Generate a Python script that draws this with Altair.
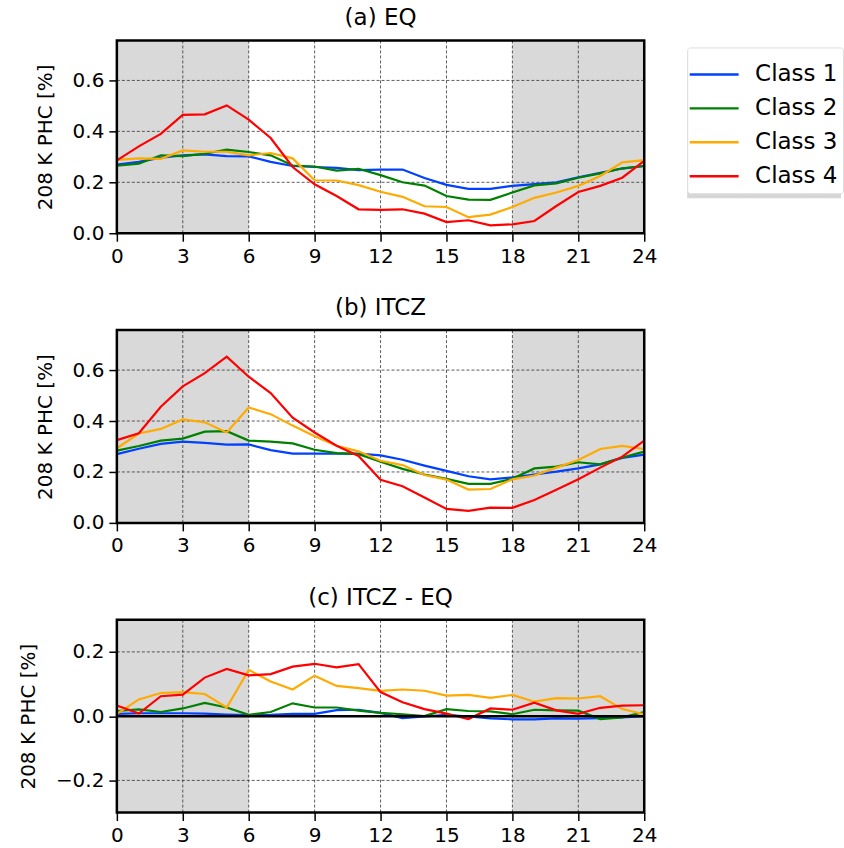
import altair as alt
import pandas as pd

# Diurnal cycle of the 208 K pixel high-cloud fraction per class
hours = list(range(25))
classes = ["Class 1", "Class 2", "Class 3", "Class 4"]
colors = ["#0040ff", "#008000", "#ffaa00", "#ff0000"]

# (a) EQ
eq_c1 = [0.270, 0.280, 0.297, 0.306, 0.310, 0.303, 0.302, 0.280, 0.264, 0.260, 0.257, 0.248, 0.250,
         0.250, 0.217, 0.190, 0.174, 0.174, 0.186, 0.193, 0.200, 0.220, 0.237, 0.254, 0.264]
eq_c2 = [0.265, 0.273, 0.306, 0.303, 0.312, 0.328, 0.319, 0.306, 0.266, 0.262, 0.246, 0.253, 0.228,
         0.200, 0.187, 0.146, 0.132, 0.131, 0.160, 0.188, 0.196, 0.218, 0.235, 0.255, 0.264]
eq_c3 = [0.288, 0.294, 0.292, 0.325, 0.320, 0.320, 0.306, 0.315, 0.294, 0.208, 0.207, 0.189, 0.163,
         0.143, 0.106, 0.103, 0.063, 0.073, 0.103, 0.139, 0.160, 0.186, 0.225, 0.278, 0.287]
eq_c4 = [0.286, 0.341, 0.390, 0.465, 0.467, 0.502, 0.446, 0.374, 0.260, 0.192, 0.146, 0.094, 0.092,
         0.094, 0.077, 0.044, 0.051, 0.031, 0.035, 0.048, 0.107, 0.162, 0.186, 0.218, 0.284]

# (b) ITCZ
itcz_c1 = [0.270, 0.291, 0.310, 0.319, 0.314, 0.307, 0.308, 0.286, 0.272, 0.272, 0.272, 0.272, 0.265,
           0.248, 0.225, 0.204, 0.183, 0.171, 0.179, 0.190, 0.201, 0.214, 0.230, 0.255, 0.268]
itcz_c2 = [0.284, 0.302, 0.323, 0.331, 0.358, 0.360, 0.323, 0.319, 0.312, 0.287, 0.274, 0.270, 0.240,
           0.212, 0.190, 0.173, 0.153, 0.153, 0.173, 0.214, 0.221, 0.238, 0.230, 0.257, 0.280]
itcz_c3 = [0.293, 0.351, 0.369, 0.406, 0.395, 0.355, 0.453, 0.427, 0.382, 0.340, 0.303, 0.281, 0.244,
           0.227, 0.188, 0.170, 0.131, 0.133, 0.171, 0.186, 0.217, 0.247, 0.290, 0.302, 0.290]
itcz_c4 = [0.325, 0.352, 0.456, 0.536, 0.588, 0.653, 0.574, 0.510, 0.413, 0.355, 0.303, 0.263, 0.169,
           0.144, 0.100, 0.055, 0.047, 0.060, 0.059, 0.090, 0.130, 0.171, 0.217, 0.260, 0.323]

# (c) ITCZ - EQ
diff_c1 = [0.007, 0.009, 0.009, 0.009, 0.008, 0.005, 0.003, 0.004, 0.007, 0.007, 0.019, 0.020, 0.010,
           -0.006, -0.001, 0.004, -0.001, -0.007, -0.010, -0.010, -0.007, -0.008, -0.006, -0.004, 0.000]
diff_c2 = [0.016, 0.021, 0.013, 0.024, 0.041, 0.027, 0.004, 0.013, 0.040, 0.027, 0.027, 0.017, 0.010,
           0.006, 0.000, 0.022, 0.016, 0.015, 0.006, 0.020, 0.018, 0.017, -0.009, -0.004, 0.013]
diff_c3 = [0.007, 0.052, 0.072, 0.075, 0.069, 0.027, 0.144, 0.108, 0.083, 0.126, 0.094, 0.087, 0.079,
           0.083, 0.079, 0.064, 0.066, 0.057, 0.066, 0.045, 0.056, 0.055, 0.062, 0.022, 0.006]
diff_c4 = [0.033, 0.008, 0.062, 0.067, 0.120, 0.147, 0.127, 0.131, 0.154, 0.163, 0.152, 0.162, 0.075,
           0.043, 0.022, 0.008, -0.009, 0.024, 0.020, 0.042, 0.018, 0.007, 0.026, 0.033, 0.034]

# Night-time hours shaded grey
night_start = [0, 18]
night_end = [6, 24]

x_ticks = list(range(0, 25, 3))
y_ticks_abs = [0.0, 0.2, 0.4, 0.6]
y_ticks_diff = [-0.2, 0.0, 0.2]

W, H = 528, 193
FONT = "DejaVu Sans"

# Legend box placement, relative to the top panel's plot origin
LEG_X, LEG_Y = 571, 7


def long_table(series):
    rows = []
    for cls, vals in zip(classes, series):
        for h, v in zip(hours, vals):
            rows.append({"hour": h, "cls": cls, "phc": v})
    return pd.DataFrame(rows)


def panel(series, title, y_domain, y_ticks, zero_line=False, legend=None):
    x_scale = alt.Scale(domain=[0, 24], nice=False, zero=False)
    y_scale = alt.Scale(domain=y_domain, nice=False, zero=False)
    x_axis = alt.Axis(values=x_ticks, title=None, grid=False, domain=False,
                      tickColor="black", tickWidth=1.5, tickSize=8,
                      labelFontSize=20, labelPadding=5, labelColor="black",
                      labelFlush=False)
    y_axis = alt.Axis(values=y_ticks, format=".1f", title="208 K PHC [%]", grid=False,
                      domain=False, tickColor="black", tickWidth=1.5, tickSize=8,
                      labelFontSize=20, labelPadding=5, labelColor="black",
                      titleFontSize=20, titleFontWeight="normal", titleColor="black",
                      titlePadding=17)

    def xenc(field):
        return alt.X(field, type="quantitative", scale=x_scale, axis=x_axis)

    def yenc(field):
        return alt.Y(field, type="quantitative", scale=y_scale, axis=y_axis)

    shade = alt.Chart(pd.DataFrame({"start": night_start, "end": night_end})).mark_rect(
        color="#d9d9d9"
    ).encode(x=xenc("start"), x2="end")

    vgrid = alt.Chart(pd.DataFrame({"gx": x_ticks})).mark_rule(
        color="#333333", strokeWidth=0.8, strokeDash=[3, 2]
    ).encode(x=xenc("gx"))

    hgrid = alt.Chart(pd.DataFrame({"gy": y_ticks})).mark_rule(
        color="#333333", strokeWidth=0.8, strokeDash=[3, 2]
    ).encode(y=yenc("gy"))

    lines = alt.Chart(long_table(series)).mark_line(strokeWidth=2.2).encode(
        x=xenc("hour"),
        y=yenc("phc"),
        color=alt.Color("cls:N", scale=alt.Scale(domain=classes, range=colors),
                        legend=legend),
    )

    layers = [shade, vgrid, hgrid, lines]
    if zero_line:
        layers.append(
            alt.Chart(pd.DataFrame({"z": [0.0]})).mark_rule(color="black", strokeWidth=2.5)
            .encode(y=yenc("z"))
        )

    # plot frame (spines)
    frame = alt.Chart(pd.DataFrame({"f": [0]})).mark_rect(
        fill="transparent", stroke="black", strokeWidth=2.5
    ).encode(x=alt.value(0), x2=alt.value(W), y=alt.value(0), y2=alt.value(H))
    layers.append(frame)

    if legend is not None:
        # drop shadow under the legend box
        shadow = alt.Chart(pd.DataFrame({"f": [0]})).mark_rect(color="#d6d6d6").encode(
            x=alt.value(LEG_X), x2=alt.value(725),
            y=alt.value(LEG_Y + 8), y2=alt.value(LEG_Y + 151),
        )
        layers.insert(0, shadow)

    return alt.layer(*layers).properties(
        width=W, height=H,
        title=alt.TitleParams(title, fontSize=23, fontWeight="normal", font=FONT,
                              anchor="middle", offset=9, color="black"),
    )


# Wide flat stroke so each legend row stays compact while the line sample is long
legend = alt.Legend(
    title=None, orient="none", legendX=LEG_X, legendY=LEG_Y,
    symbolType="M-1.2,0H1.2", symbolSize=1666, symbolStrokeWidth=2.5,
    labelFontSize=23, labelFont=FONT, labelColor="black", labelOffset=19,
    rowPadding=0, padding=5, fillColor="white", strokeColor="#dddddd",
    cornerRadius=3,
)

chart = alt.vconcat(
    panel([eq_c1, eq_c2, eq_c3, eq_c4], "(a) EQ", [0, 0.757], y_ticks_abs, legend=legend),
    panel([itcz_c1, itcz_c2, itcz_c3, itcz_c4], "(b) ITCZ", [0, 0.757], y_ticks_abs),
    panel([diff_c1, diff_c2, diff_c3, diff_c4], "(c) ITCZ - EQ", [-0.3, 0.3], y_ticks_diff,
          zero_line=True),
    spacing=30,
).properties(
    padding={"left": 18, "top": 6, "right": 0, "bottom": 5}
).configure(
    font=FONT,
).configure_view(
    stroke=None,
)

chart.save("out.html", embed_options={"renderer": "svg", "actions": False})
